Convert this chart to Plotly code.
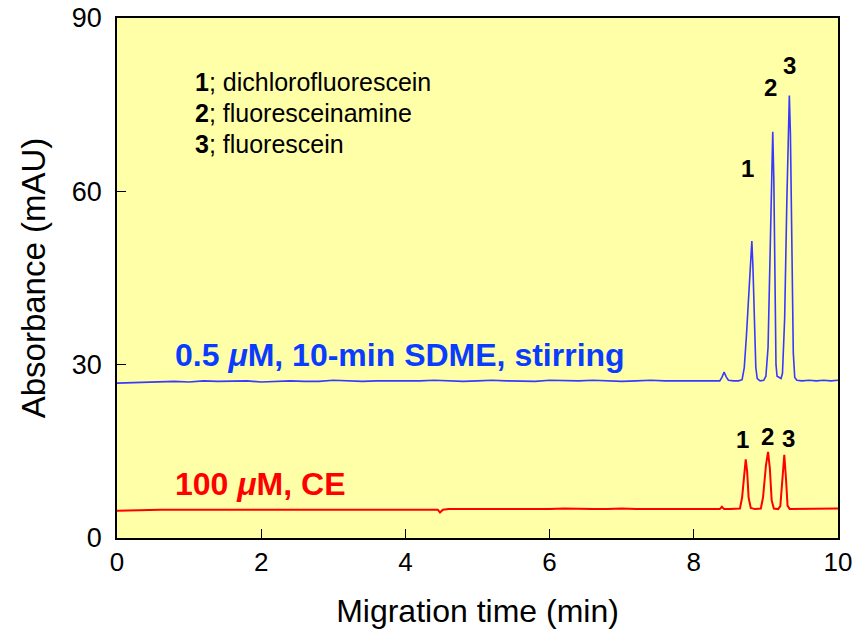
import plotly.graph_objects as go

# ---- data ----
blue_time = [0.0, 0.2, 0.4, 0.6, 0.8, 1.0, 1.2, 1.4, 1.6, 1.8, 2.0, 2.2, 2.4, 2.6, 2.8,
             3.0, 3.2, 3.4, 3.6, 3.8, 4.0, 4.2, 4.4, 4.6, 4.8, 5.0, 5.2, 5.4, 5.6, 5.8,
             6.0, 6.2, 6.4, 6.6, 6.8, 7.0, 7.2, 7.4, 7.6, 7.8, 8.0, 8.2,
             8.30, 8.36, 8.39, 8.42, 8.45, 8.48, 8.55, 8.62, 8.67, 8.70, 8.73, 8.76,
             8.79, 8.805, 8.82, 8.84, 8.86, 8.88, 8.92, 8.97, 9.00, 9.03, 9.06, 9.08,
             9.095, 9.11, 9.125, 9.14, 9.155, 9.18, 9.21, 9.23, 9.26, 9.29, 9.31,
             9.325, 9.34, 9.36, 9.38, 9.40, 9.43, 9.5, 9.6, 9.7, 9.8, 9.9, 10.0]
blue_abs = [26.8, 26.9, 26.9, 27.0, 27.1, 27.0, 27.2, 27.1, 27.1, 27.2, 27.0, 27.1, 27.2, 27.1, 27.1,
            27.3, 27.2, 27.1, 27.2, 27.2, 27.1, 27.2, 27.3, 27.2, 27.1, 27.2, 27.3, 27.2, 27.2, 27.1,
            27.3, 27.2, 27.2, 27.3, 27.2, 27.1, 27.2, 27.3, 27.2, 27.2, 27.3, 27.2,
            27.2, 27.2, 27.8, 28.7, 27.9, 27.3, 27.2, 27.2, 27.4, 29.5, 35.0, 42.0,
            49.0, 51.4, 47.0, 37.0, 29.5, 27.6, 27.2, 27.3, 28.0, 33.0, 48.0, 63.0,
            70.3, 62.0, 42.0, 30.0, 28.0, 27.8, 27.6, 28.5, 38.0, 58.0, 72.0,
            76.6, 70.0, 50.0, 32.0, 27.8, 27.3, 27.2, 27.3, 27.2, 27.3, 27.2, 27.3]

red_time = [0.0, 0.2, 0.4, 0.6, 0.8, 1.0, 1.2, 1.4, 1.6, 1.8, 2.0, 2.2, 2.4, 2.6, 2.8,
            3.0, 3.2, 3.4, 3.6, 3.8, 4.0, 4.2, 4.4, 4.45, 4.48, 4.52, 4.6, 4.8, 5.0,
            5.2, 5.4, 5.6, 5.8, 6.0, 6.2, 6.4, 6.6, 6.8, 7.0, 7.2, 7.4, 7.6, 7.8,
            8.0, 8.2, 8.30, 8.36, 8.39, 8.42, 8.5, 8.6, 8.64, 8.67, 8.70, 8.72, 8.74,
            8.76, 8.79, 8.85, 8.93, 8.96, 9.00, 9.03, 9.055, 9.08, 9.11, 9.17, 9.20,
            9.225, 9.255, 9.28, 9.30, 9.33, 9.4, 9.6, 9.8, 10.0]
red_abs = [4.7, 4.8, 4.8, 4.9, 4.9, 4.9, 5.0, 4.9, 5.0, 5.0, 4.9, 5.0, 5.0, 5.0, 4.9,
           5.0, 5.0, 5.0, 5.0, 4.9, 5.0, 5.0, 5.0, 4.9, 4.4, 4.9, 5.0, 5.0, 5.0,
           4.9, 5.0, 5.0, 5.0, 5.0, 5.1, 5.0, 5.0, 5.0, 5.1, 5.0, 5.0, 5.0, 5.1,
           5.0, 5.0, 5.0, 5.0, 5.4, 5.0, 5.0, 5.0, 5.1, 7.0, 11.5, 13.6, 11.5,
           7.0, 5.2, 5.0, 5.1, 7.0, 12.5, 14.9, 12.0, 6.5, 5.1, 5.0, 5.5,
           9.5, 14.4, 10.0, 5.6, 5.0, 5.0, 5.1, 5.0, 5.1]

x_ticks = [0, 2, 4, 6, 8, 10]
y_ticks = [0, 30, 60, 90]

legend_numbers = ["1", "2", "3"]
legend_names = ["dichlorofluorescein", "fluoresceinamine", "fluorescein"]
legend_y = [78.9, 73.5, 68.2]

blue_peak_labels = ["1", "2", "3"]
blue_peak_x = [8.75, 9.07, 9.33]
blue_peak_y = [64.0, 78.0, 81.8]
red_peak_labels = ["1", "2", "3"]
red_peak_x = [8.68, 9.02, 9.31]
red_peak_y = [17.0, 17.5, 17.3]

BLUE_LINE = "#3838FF"
BLUE_TEXT = "#0A3CFF"
RED = "#FF0000"
FONT = "Liberation Sans, Arial, sans-serif"

fig = go.Figure()
fig.add_trace(go.Scatter(x=blue_time, y=blue_abs, mode="lines",
                         line=dict(color=BLUE_LINE, width=1.6), showlegend=False))
fig.add_trace(go.Scatter(x=red_time, y=red_abs, mode="lines",
                         line=dict(color=RED, width=2), showlegend=False))

ann = []
for num, name, yy in zip(legend_numbers, legend_names, legend_y):
    ann.append(dict(x=1.05, y=yy, xref="x", yref="y", xanchor="left", yanchor="middle",
                    text=f"<b>{num}</b>; {name}", showarrow=False,
                    font=dict(family=FONT, size=25, color="black")))
for t, xx, yy in zip(blue_peak_labels, blue_peak_x, blue_peak_y):
    ann.append(dict(x=xx, y=yy, xref="x", yref="y", text=f"<b>{t}</b>", showarrow=False,
                    font=dict(family=FONT, size=24, color="black")))
for t, xx, yy in zip(red_peak_labels, red_peak_x, red_peak_y):
    ann.append(dict(x=xx, y=yy, xref="x", yref="y", text=f"<b>{t}</b>", showarrow=False,
                    font=dict(family=FONT, size=24, color="black")))
ann.append(dict(x=0.78, y=31.7, xref="x", yref="y", xanchor="left", yanchor="middle",
                text="<b>0.5 <i>μ</i>M, 10-min SDME, stirring</b>", showarrow=False,
                font=dict(family=FONT, size=32, color=BLUE_TEXT)))
ann.append(dict(x=0.78, y=9.3, xref="x", yref="y", xanchor="left", yanchor="middle",
                text="<b>100 <i>μ</i>M, CE</b>", showarrow=False,
                font=dict(family=FONT, size=32, color=RED)))

fig.update_layout(
    width=859, height=638,
    margin=dict(l=117, r=21, t=18, b=100, autoexpand=False),
    paper_bgcolor="white",
    plot_bgcolor="#FFFFA8",
    font=dict(family=FONT, color="black"),
    annotations=ann,
)
fig.update_xaxes(range=[0, 10], tickvals=x_ticks, ticks="inside", ticklen=9, tickwidth=1,
                 tickcolor="black", showline=True, linecolor="black", linewidth=1.5,
                 mirror=True, showgrid=False, zeroline=False, automargin=False,
                 tickfont=dict(size=26), title=dict(text="Migration time (min)",
                 font=dict(size=32), standoff=24))
fig.update_yaxes(range=[0, 90], tickvals=y_ticks, ticks="inside", ticklen=9, tickwidth=1,
                 tickcolor="black", showline=True, linecolor="black", linewidth=1.5,
                 mirror=True, showgrid=False, zeroline=False, automargin=False,
                 ticklabelstandoff=8,
                 tickfont=dict(size=27), title=dict(text="Absorbance (mAU)",
                 font=dict(size=33), standoff=16))

fig.write_html("out.html", config={"displayModeBar": False},
               post_script="document.body.style.margin='0';")
